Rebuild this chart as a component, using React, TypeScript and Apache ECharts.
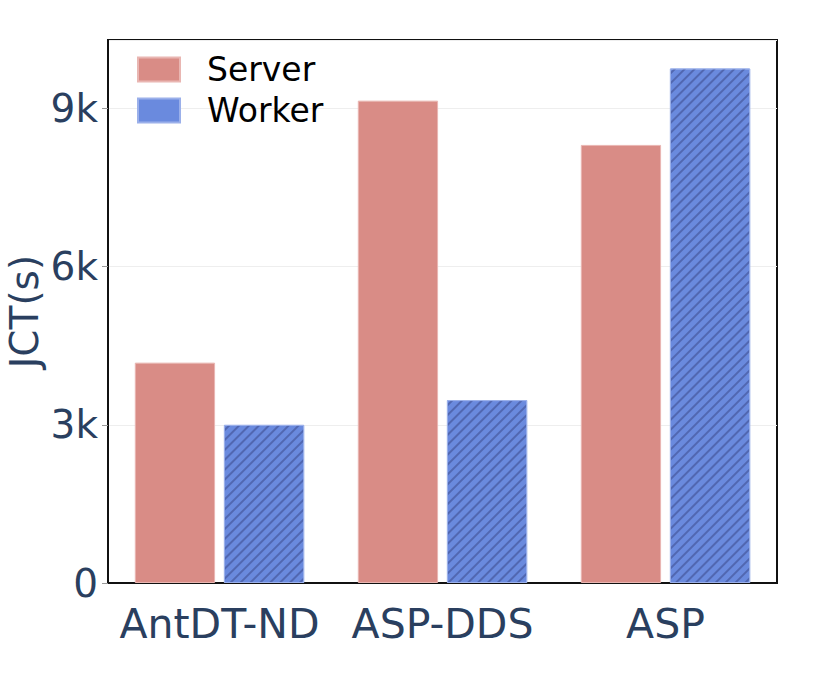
import React, { useEffect, useRef } from "react";
import * as echarts from "echarts";

const categories = ["AntDT-ND", "ASP-DDS", "ASP"];
const serverValues = [4180, 9150, 8310];
const workerValues = [3000, 3470, 9760];
const seriesNames = ["Server", "Worker"];

const FONT = "DejaVu Sans";
const TEXT = "#2a3f5f";

export default function App() {
  const ref = useRef<HTMLDivElement>(null);
  useEffect(() => {
    document.body.style.margin = "0";
    if (!ref.current) return;
    const chart = echarts.init(ref.current, undefined, { renderer: "svg" });
    chart.setOption({
      animation: false,
      backgroundColor: "#fff",
      grid: {
        left: 108,
        right: 53,
        top: 40,
        bottom: 109,
        outerBoundsMode: "none",
        containLabel: false,
        show: true,
        borderColor: "#111",
        borderWidth: 2,
        backgroundColor: "transparent",
      },
      legend: {
        left: 132,
        top: 48,
        orient: "vertical",
        icon: "rect",
        itemWidth: 42,
        itemHeight: 24,
        itemGap: 8,
        selectedMode: false,
        textStyle: { fontFamily: FONT, fontSize: 33, color: "#000", padding: [0, 0, 0, 22] },
        data: [
          { name: seriesNames[0], itemStyle: { decal: "none" } },
          { name: seriesNames[1], itemStyle: { decal: "none" } },
        ],
      },
      xAxis: {
        type: "category",
        data: categories,
        axisLine: { show: true, lineStyle: { color: "#111", width: 2 } },
        axisTick: { show: false },
        axisLabel: { fontFamily: FONT, fontSize: 41, color: TEXT, margin: 20, interval: 0 },
      },
      yAxis: {
        type: "value",
        min: 0,
        max: 10300,
        interval: 3000,
        name: "JCT(s)",
        nameLocation: "middle",
        nameGap: 64,
        nameMoveOverlap: false,
        nameTextStyle: { fontFamily: FONT, fontSize: 39, color: TEXT },
        axisLine: { show: true, lineStyle: { color: "#111", width: 2 } },
        axisTick: { show: true, length: 6, lineStyle: { color: "#999" } },
        axisLabel: {
          fontFamily: FONT,
          fontSize: 39,
          color: TEXT,
          margin: 10,
          showMaxLabel: false,
          formatter: (v: number) => (v % 3000 !== 0 ? "" : v === 0 ? "0" : v / 1000 + "k"),
        },
        splitLine: { show: true, lineStyle: { color: "#eeeeee", width: 1 } },
      },
      series: [
        {
          name: seriesNames[0],
          type: "bar",
          data: serverValues,
          barWidth: "36%",
          barGap: "11%",
          itemStyle: { color: "#d98c86", borderColor: "#e9b6b2", borderWidth: 1 },
        },
        {
          name: seriesNames[1],
          type: "bar",
          data: workerValues,
          barWidth: "36%",
          itemStyle: {
            color: "#6a8ade",
            borderColor: "#9bb0ea",
            borderWidth: 1,
            decal: {
              symbol: "rect",
              symbolSize: 1,
              dashArrayX: [1, 0],
              dashArrayY: [1.6, 4.2],
              rotation: -Math.PI / 4,
              color: "rgba(60,75,140,0.55)",
            },
          },
        },
      ],
    });
    return () => chart.dispose();
  }, []);
  return <div ref={ref} style={{ width: 830, height: 692 }} />;
}
